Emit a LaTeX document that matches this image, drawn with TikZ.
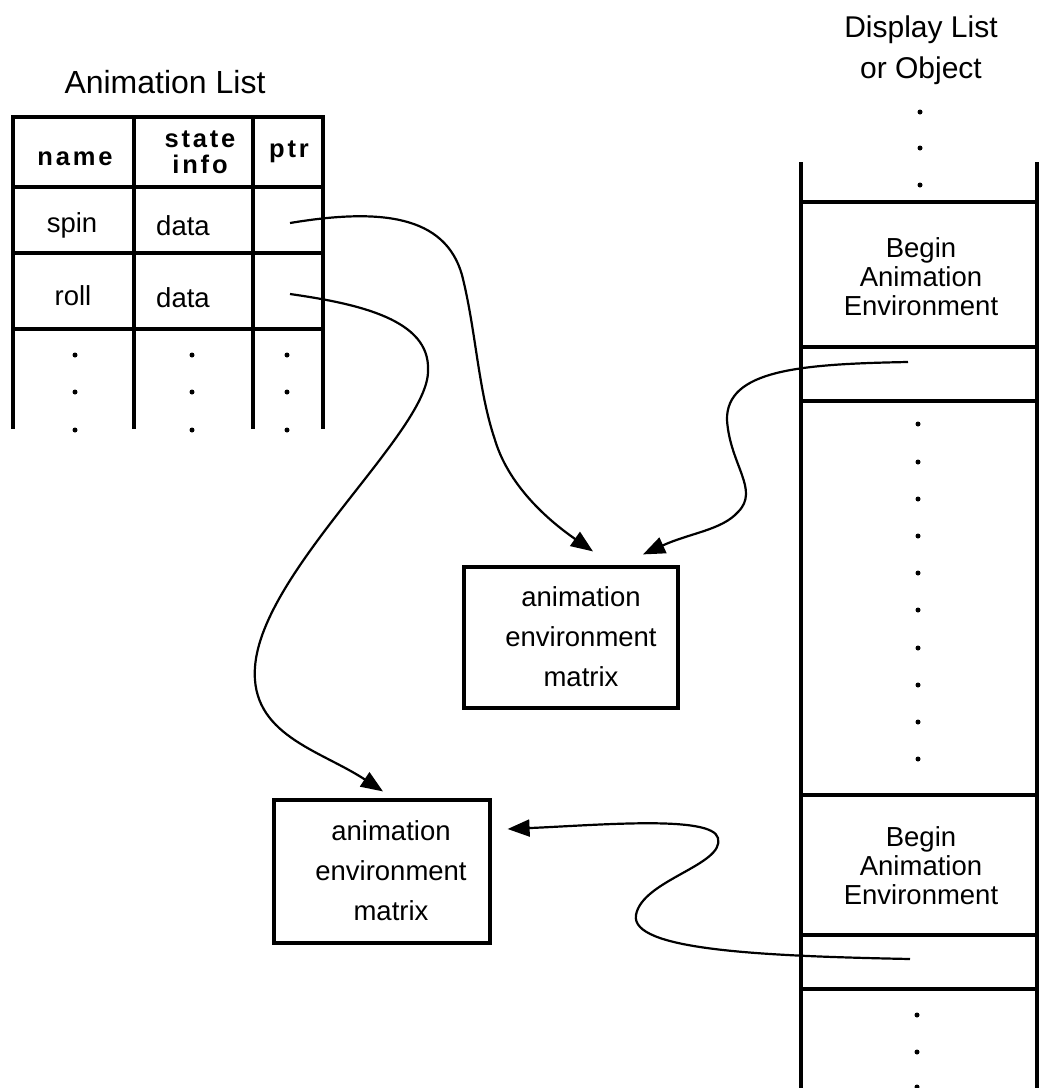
\documentclass[tikz,border=0pt]{standalone}
\usepackage{fontspec}
\setmainfont{Liberation Sans}
\newfontfamily\headfont[LetterSpace=11]{Liberation Sans}
\usetikzlibrary{arrows.meta,calc}

\begin{document}
\begin{tikzpicture}[x=1pt,y=-1pt,
  rule/.style={line width=3.4pt, line cap=rect},
  txt/.style={font=\fontsize{27.5}{29}\selectfont, inner sep=0pt, align=center},
  boxtxt/.style={font=\fontsize{27.5}{40}\selectfont, inner sep=0pt, align=center},
  hdr/.style={font=\headfont\bfseries\fontsize{25.5}{26}\selectfont, inner sep=0pt, align=center},
  matbox/.style={draw, line width=3.2pt, minimum width=214pt, minimum height=141pt, inner sep=0pt},
  link/.style={line width=2.2pt, -{Triangle[length=22pt,width=17pt]}},
  dot/.style={circle, fill, inner sep=0pt, minimum size=5pt}]

\useasboundingbox (0,0) rectangle (1041,1088);

% ---------- animation list table ----------
\node[font=\fontsize{32}{34}\selectfont, anchor=base, inner sep=0pt] (altitle) at (165,93) {Animation List};

\foreach \x in {13,134,253,323} \draw[rule] (\x,117) -- (\x,427);
\foreach \y in {117,187,253} \draw[rule] (13,\y) -- (323,\y);
\draw[line width=3.8pt, line cap=rect] (13,329) -- (323,329);

\node[hdr, anchor=base] (hname) at (75,165) {name};
\node[hdr] (hstate) at (200,152) {state\\info};
\node[hdr, anchor=base] (hptr) at (289,157) {ptr};

\node[txt, anchor=base] (spin) at (72,232) {spin};
\node[txt, anchor=base] (data1) at (183,235) {data};
\node[txt, anchor=base] (roll) at (73,305) {roll};
\node[txt, anchor=base] (data2) at (183,307) {data};

\foreach \x in {75,192,287}
  \foreach \y in {355,392,430}
    \node[dot] at (\x,\y) {};

\coordinate (spinptr) at (290,223);
\coordinate (rollptr) at (290,294);

% ---------- display list column ----------
\node[font=\fontsize{30}{41}\selectfont, align=center, inner sep=0pt] (dltitle) at (921,50) {Display List\\or Object};

\draw[line width=3.2pt] (801,162) -- (801,1088);
\draw[line width=3.2pt] (1037,162) -- (1037,1088);
\foreach \y in {202,347,401,795,935,989} \draw[line width=3.2pt] (801,\y) -- (1037,\y);

\foreach \y in {112,148,185} \node[dot] at (920,\y) {};
\foreach \y in {424,462,499,536,573,610,648,685,722,759} \node[dot] at (918,\y) {};
\foreach \y in {1015,1052,1087} \node[dot] at (917,\y) {};

\node[txt] (bae1) at (921,277) {Begin\\Animation\\Environment};
\node[txt] (bae2) at (921,866) {Begin\\Animation\\Environment};

\coordinate (dlptr1) at (908,362);
\coordinate (dlptr2) at (910,959);

% ---------- environment matrices ----------
\node[matbox] (envA) at (571,637.5) {};
\node[boxtxt] (envAtxt) at (581,637) {animation\\environment\\matrix};
\node[matbox, minimum width=216pt, minimum height=143pt] (envB) at (382,871.5) {};
\node[boxtxt] (envBtxt) at (391,871) {animation\\environment\\matrix};

\coordinate (inA1) at ($(envA.north)+(22,-14)$);
\coordinate (inA2) at ($(envA.north)+(72,-11)$);
\coordinate (inB1) at ($(envB.north)+(1,-7)$);
\coordinate (inB2) at ($(envB.east)+(16,-42.5)$);

% ---------- pointers ----------
\draw[link] (spinptr) .. controls (380,208) and (445,215) .. (462,275)
  .. controls (476,330) and (478,390) .. (495,440)
  .. controls (510,490) and (555,525) .. (inA1);

\draw[link] (rollptr) .. controls (360,304) and (430,320) .. (428,370)
  .. controls (430,430) and (262,570) .. (255,667)
  .. controls (250,735) and (320,750) .. (inB1);

\draw[link] (dlptr1) .. controls (800,364) and (726,370) .. (727,420)
  .. controls (730,465) and (760,490) .. (738,512)
  .. controls (722,530) and (690,533) .. (inA2);

\draw[link] (dlptr2) .. controls (760,956) and (630,950) .. (636,915)
  .. controls (642,880) and (725,865) .. (718,838)
  .. controls (712,815) and (600,825) .. (inB2);

\end{tikzpicture}
\end{document}
